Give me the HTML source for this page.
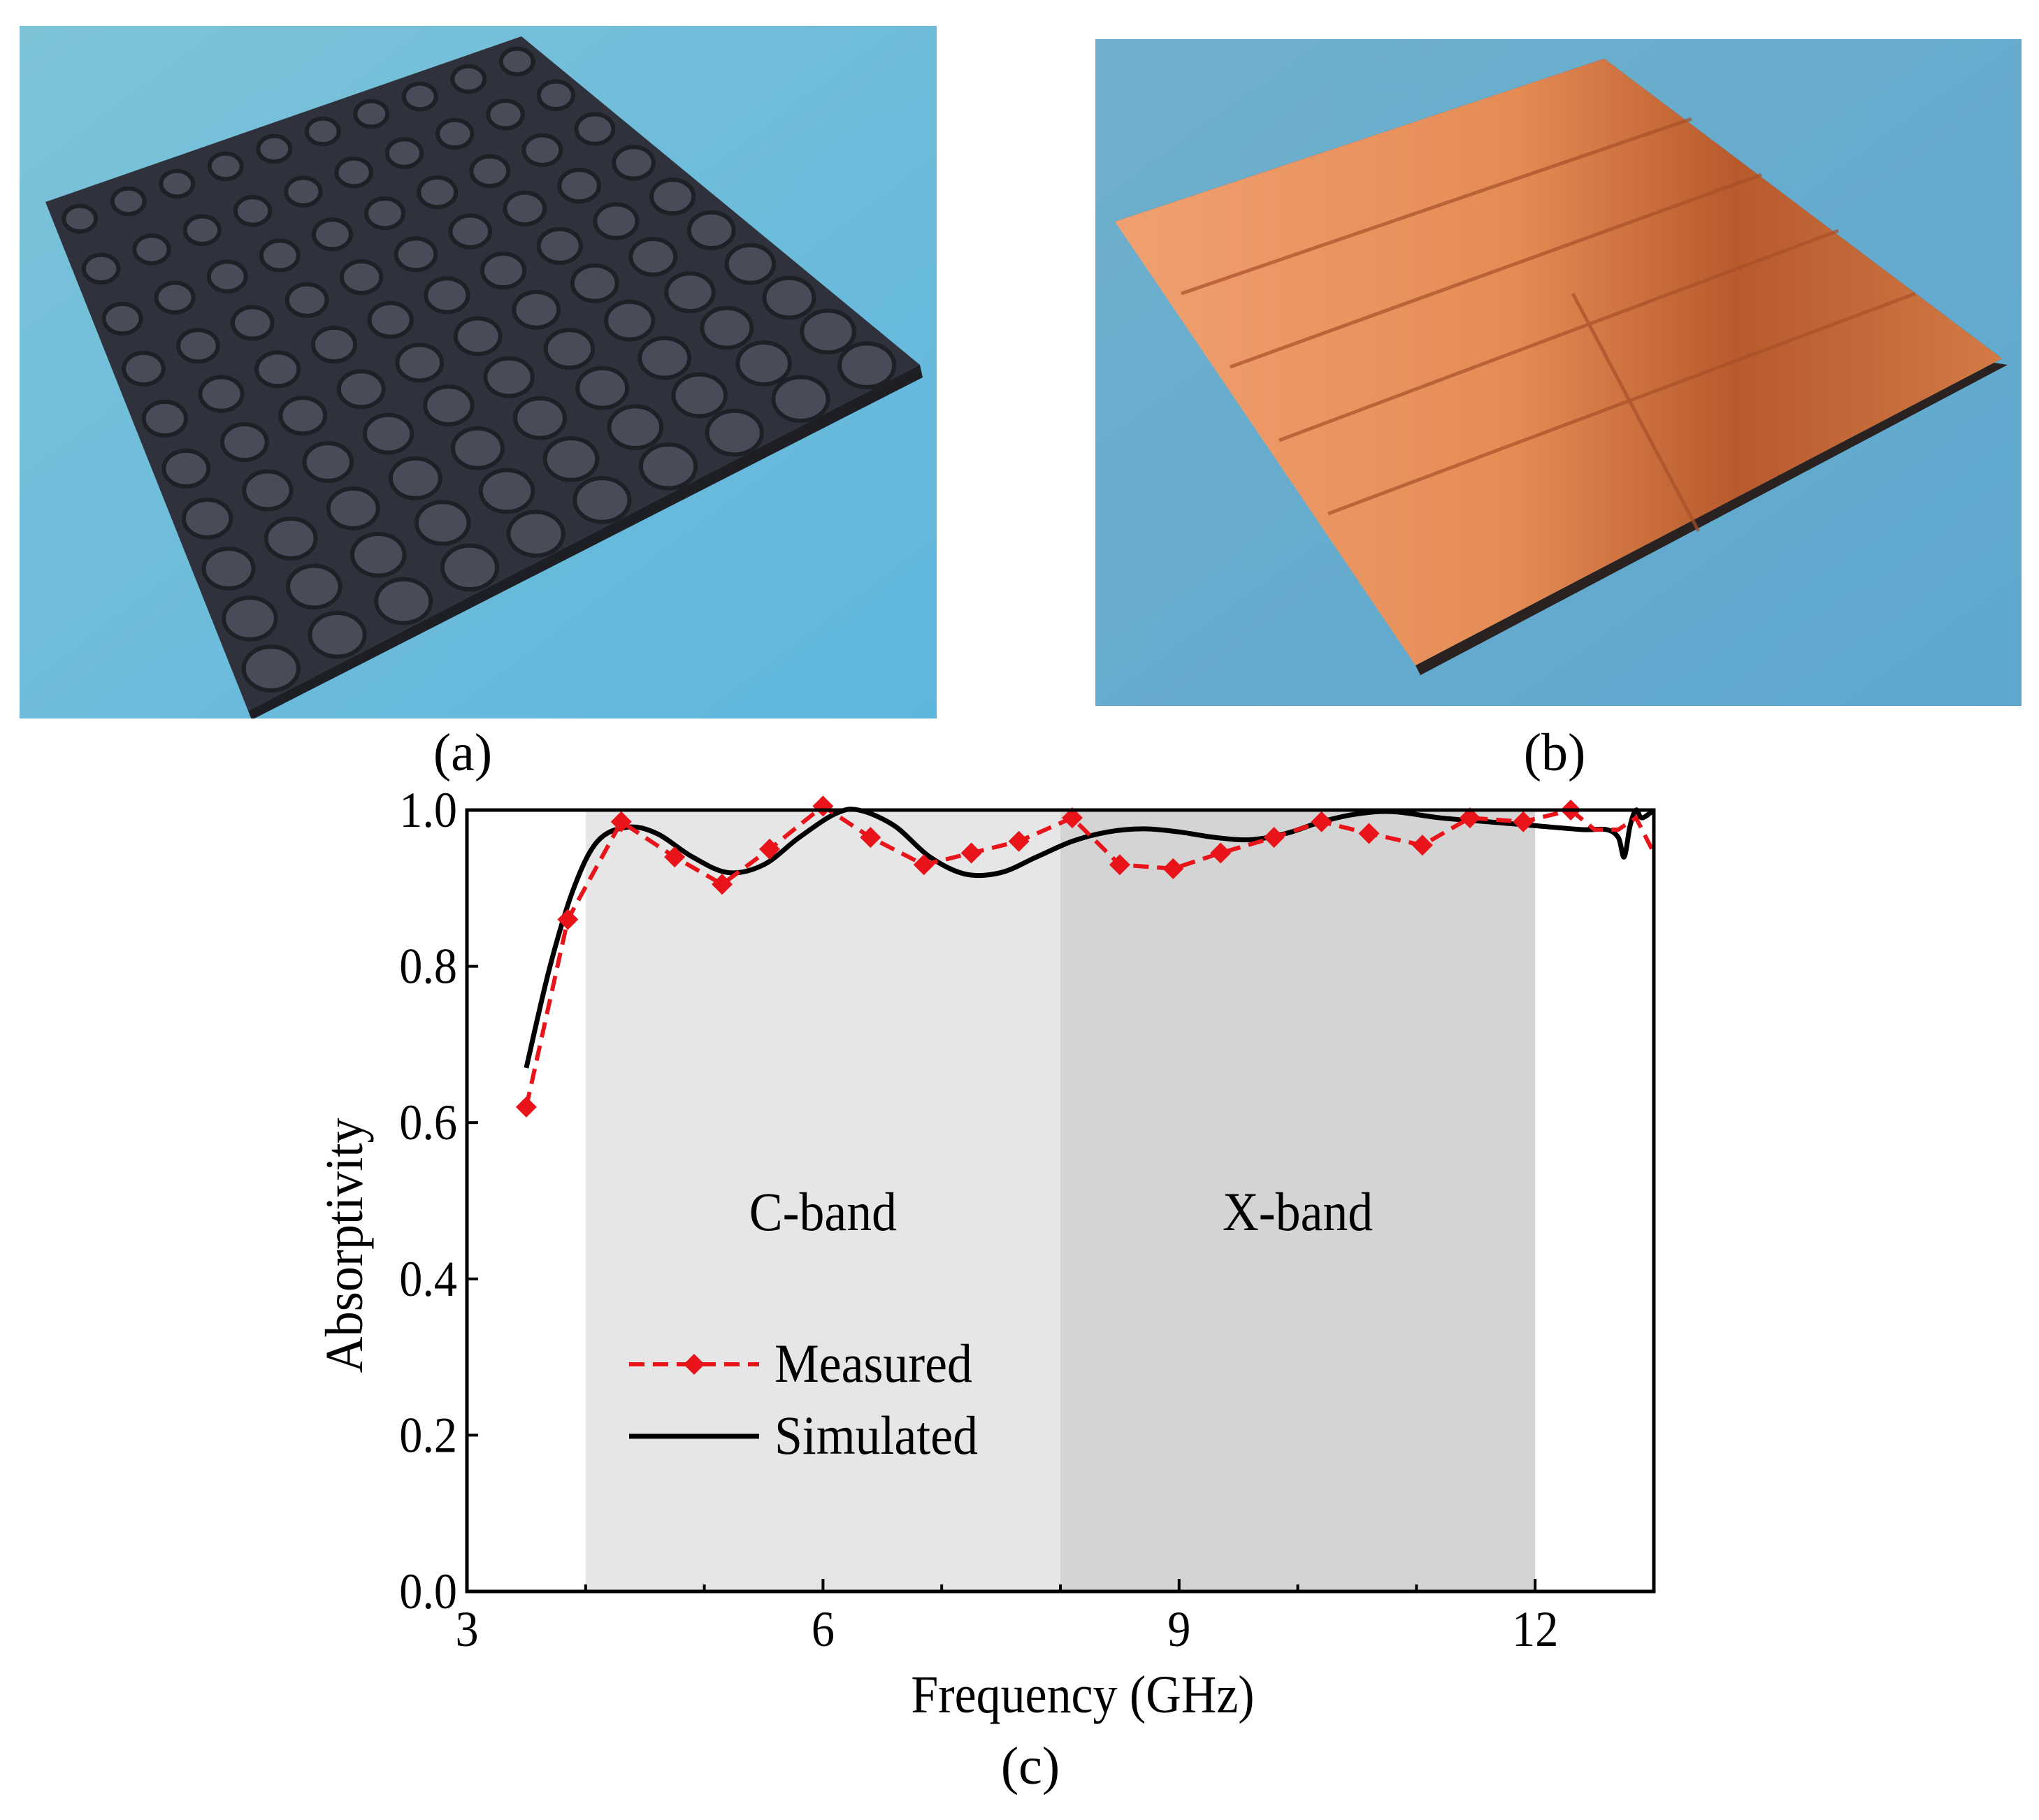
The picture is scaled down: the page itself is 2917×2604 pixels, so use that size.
<!DOCTYPE html>
<html><head><meta charset="utf-8"><style>
html,body{margin:0;padding:0;background:#fff;}
svg{display:block;font-family:"Liberation Serif",serif;}
</style></head><body>
<svg id="root" width="2917" height="2604" viewBox="0 0 2917 2604" xmlns="http://www.w3.org/2000/svg">
<defs>
<linearGradient id="bgA" x1="0" y1="0" x2="1" y2="1"><stop offset="0" stop-color="#7cc3d8"/><stop offset="1" stop-color="#5fb6dd"/></linearGradient>
<linearGradient id="bgB" x1="0" y1="0" x2="1" y2="1"><stop offset="0" stop-color="#6fb0cc"/><stop offset="1" stop-color="#5da7cf"/></linearGradient>
<linearGradient id="cu" x1="0" y1="0" x2="1" y2="0"><stop offset="0" stop-color="#f0a070"/><stop offset="0.45" stop-color="#e58c55"/><stop offset="0.7" stop-color="#b85a2c"/><stop offset="0.85" stop-color="#c46a3a"/><stop offset="1" stop-color="#d47a45"/></linearGradient>
<clipPath id="clipA"><rect x="28" y="37" width="1312" height="991"/></clipPath>
</defs>
<g>
<rect x="28" y="37" width="1312" height="991" fill="url(#bgA)"/>
<g clip-path="url(#clipA)">
<polygon points="65,289 746,52 1316,522 355,1017" fill="#2f323c"/>
<polygon points="355,1017 1316,522 1320,540 360,1030" fill="#1d1f25"/>
<g id="bumps"></g>
</g>
</g>
<text x="662" y="1102" font-size="76" text-anchor="middle">(a)</text>
<g>
<rect x="1567" y="56" width="1325" height="954" fill="url(#bgB)"/>
<polygon points="1595,317 2295,84 2864,513 2025,952 2032,966 2872,522" fill="#2a2220"/>
<polygon points="1595,317 2295,84 2864,513 2025,952" fill="url(#cu)"/>
<g stroke="#a8502a" stroke-width="5" fill="none" opacity="0.7">
<line x1="1690" y1="420" x2="2420" y2="170"/>
<line x1="1760" y1="525" x2="2520" y2="250"/>
<line x1="1830" y1="630" x2="2630" y2="330"/>
<line x1="1900" y1="735" x2="2740" y2="420"/>
<line x1="2250" y1="420" x2="2430" y2="760"/>
</g>
</g>
<text x="2224" y="1102" font-size="76" text-anchor="middle">(b)</text>
<g id="chart"></g>
<text x="1474" y="2552" font-size="76" text-anchor="middle">(c)</text>
</svg>
<script>
(function(){
  var g=document.getElementById('bumps');
  var P=[[65,289],[746,52],[1316,522],[355,1017]];
  var n=10;
  for(var i=0;i<n;i++)for(var j=0;j<n;j++){
    var u=(i+0.5)/n,v=(j+0.5)/n;
    var x=(1-u)*(1-v)*P[0][0]+u*(1-v)*P[1][0]+u*v*P[2][0]+(1-u)*v*P[3][0];
    var y=(1-u)*(1-v)*P[0][1]+u*(1-v)*P[1][1]+u*v*P[2][1]+(1-u)*v*P[3][1];
    var r=22+18*v;
    var c=document.createElementNS('http://www.w3.org/2000/svg','ellipse');
    c.setAttribute('cx',x);c.setAttribute('cy',y);c.setAttribute('rx',r);c.setAttribute('ry',r*0.8);
    c.setAttribute('fill','#484c58');c.setAttribute('stroke','#1e2026');c.setAttribute('stroke-width','6');
    
    
    g.appendChild(c);
  }
})();
</script>
<script>
var xTicks=[3,6,9,12];
var yTicks=[0.0,0.2,0.4,0.6,0.8,1.0];
var bands=[[4,8,'C-band'],[8,12,'X-band']];
var measFreq=[3.5,3.85,4.3,4.75,5.15,5.55,6.0,6.4,6.85,7.25,7.65,8.1,8.5,8.95,9.35,9.8,10.2,10.6,11.05,11.45,11.9,12.3];
var measVal=[0.62,0.86,0.985,0.94,0.905,0.95,1.005,0.965,0.93,0.945,0.96,0.99,0.93,0.925,0.945,0.965,0.985,0.97,0.955,0.99,0.985,1.0];
var measTailFreq=[12.3,12.5,12.7,12.85,13.0];
var measTailVal=[1.0,0.975,0.975,0.99,0.945];
var simFreq=[3.5,3.7,3.9,4.1,4.35,4.6,4.9,5.2,5.5,5.8,6.1,6.3,6.6,6.9,7.2,7.5,7.8,8.1,8.4,8.7,9.0,9.3,9.6,9.9,10.2,10.5,10.8,11.2,11.6,12.0,12.4,12.6,12.7,12.75,12.8,12.85,12.9,13.0];
var simVal=[0.67,0.80,0.90,0.96,0.978,0.97,0.94,0.92,0.93,0.965,0.995,1.0,0.98,0.94,0.918,0.92,0.94,0.96,0.972,0.976,0.972,0.965,0.962,0.97,0.985,0.995,0.998,0.99,0.985,0.98,0.975,0.975,0.965,0.94,0.98,1.0,0.99,1.0];

var L=668,R=2366,T=1159,B=2277,X0=3,X1=13;
function sx(v){return L+(v-X0)/(X1-X0)*(R-L);}
function sy(v){return B-v*(B-T);}
var NS='http://www.w3.org/2000/svg',chart=document.getElementById('chart');
function mk(tag,attrs,parent){var e=document.createElementNS(NS,tag);for(var k in attrs)e.setAttribute(k,attrs[k]);(parent||chart).appendChild(e);return e;}
function condensed(t,x,y){t.setAttribute('transform','translate('+x+','+y+') scale(0.92,1) translate('+(-x)+','+(-y)+')');}

bands.forEach(function(b,i){
  var r=mk('rect',{x:sx(b[0]),y:T,width:sx(b[1])-sx(b[0]),height:B-T,fill:i==0?'#e6e6e6':'#d4d4d4'});
  
  
  var cx=(sx(b[0])+sx(b[1]))/2;
  var t=mk('text',{x:cx,y:1760,'font-size':78,'text-anchor':'middle'});
  t.textContent=b[2];
  condensed(t,cx,1760);
  
  
});
function pts(fx,fy){return fx.map(function(f,i){return sx(f)+','+sy(fy[i]);}).join(' ');}
function smoothPath(fx,fy){
  var p=fx.map(function(f,i){return [sx(f),sy(fy[i])];});
  var d='M'+p[0][0]+','+p[0][1];
  for(var i=0;i<p.length-1;i++){
    var p0=p[Math.max(0,i-1)],p1=p[i],p2=p[i+1],p3=p[Math.min(p.length-1,i+2)];
    var c1x=p1[0]+(p2[0]-p0[0])/6,c1y=p1[1]+(p2[1]-p0[1])/6;
    var c2x=p2[0]-(p3[0]-p1[0])/6,c2y=p2[1]-(p3[1]-p1[1])/6;
    d+=' C'+c1x+','+c1y+' '+c2x+','+c2y+' '+p2[0]+','+p2[1];
  }
  return d;
}
var sim=mk('path',{d:smoothPath(simFreq,simVal),fill:'none',stroke:'#000','stroke-width':7,'stroke-linejoin':'round'});


var meas=mk('polyline',{points:pts(measFreq,measVal),fill:'none',stroke:'#e8141a','stroke-width':6,'stroke-dasharray':'22,12'});


var tail=mk('polyline',{points:pts(measTailFreq,measTailVal),fill:'none',stroke:'#e8141a','stroke-width':6,'stroke-dasharray':'22,12'});


function diamond(x,y,s){return (x)+','+(y-s)+' '+(x+s)+','+y+' '+x+','+(y+s)+' '+(x-s)+','+y;}
measFreq.forEach(function(f,i){
  var d=mk('polygon',{points:diamond(sx(f),sy(measVal[i]),15),fill:'#e8141a'});
  
  
});
var frame=mk('rect',{x:L,y:T,width:R-L,height:B-T,fill:'none',stroke:'#000','stroke-width':5});


for(var v=3;v<=13;v+=1){
  var tk=mk('line',{x1:sx(v),x2:sx(v),y1:B,y2:B-(v%3==0?18:10),stroke:'#000','stroke-width':4});
  
  
}
xTicks.forEach(function(v){
  var t=mk('text',{x:sx(v),y:B+78,'font-size':72,'text-anchor':'middle'});t.textContent=v;
  condensed(t,sx(v),B+78);
  
  
});
yTicks.forEach(function(v){
  var tk=mk('line',{x1:L,x2:L+16,y1:sy(v),y2:sy(v),stroke:'#000','stroke-width':4});
  
  
  var t=mk('text',{x:L-14,y:sy(v)+24,'font-size':72,'text-anchor':'end'});t.textContent=v.toFixed(1);
  condensed(t,L-14,sy(v)+24);
  
  
});
var xt=mk('text',{x:1549,y:2450,'font-size':76,'text-anchor':'middle'});xt.textContent='Frequency (GHz)';
condensed(xt,1549,2450);


var yt=mk('text',{x:0,y:0,'font-size':76,'text-anchor':'middle',transform:'translate(518,1782) rotate(-90) scale(0.95,1)'});yt.textContent='Absorptivity';


var lg=mk('g',{});


var l1=mk('line',{x1:900,x2:1086,y1:1952,y2:1952,stroke:'#e8141a','stroke-width':6,'stroke-dasharray':'22,12'},lg);


var d1=mk('polygon',{points:diamond(993,1952,15),fill:'#e8141a'},lg);


var t1=mk('text',{x:1108,y:1977,'font-size':78},lg);t1.textContent='Measured';
condensed(t1,1108,1977);


var l2=mk('line',{x1:900,x2:1086,y1:2055,y2:2055,stroke:'#000','stroke-width':7},lg);


var t2=mk('text',{x:1108,y:2080,'font-size':78},lg);t2.textContent='Simulated';
condensed(t2,1108,2080);


</script>
</body></html>
